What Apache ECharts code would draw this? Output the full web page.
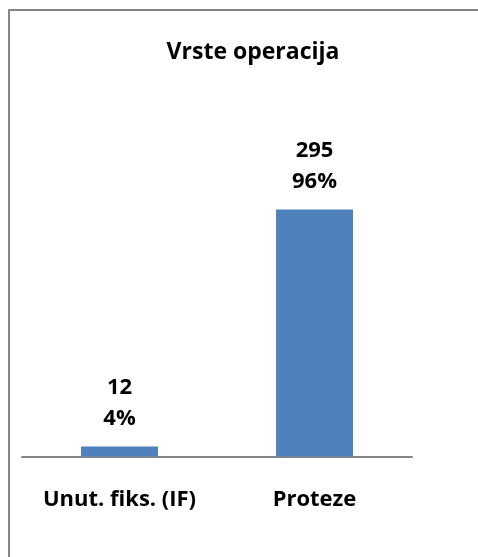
<!DOCTYPE html>
<html>
<head>
<meta charset="utf-8">
<script src="https://cdn.jsdelivr.net/npm/echarts@6/dist/echarts.min.js"></script>
<style>
  html, body { margin: 0; padding: 0; background: #fff; }
  #chart { width: 478px; height: 557px; }
</style>
</head>
<body>
<div id="chart"></div>
<script>
// podaci
const categories = ['Unut. fiks. (IF)', 'Proteze'];
const counts = [12, 295];
const percents = ['4%', '96%'];

const chart = echarts.init(document.getElementById('chart'));

const font = '"Open Sans", "Noto Sans", sans-serif';

chart.setOption({
    animation: false,
    title: {
        text: 'Vrste operacija',
        left: 248,
        top: 36,
        textAlign: 'center',
        textStyle: { fontFamily: font, fontWeight: 'bold', fontSize: 23, color: '#000' }
    },
    // okvir: samo gornja i lijeva linija
    graphic: [
        { type: 'line', shape: { x1: 8, y1: 10, x2: 478, y2: 10 }, style: { stroke: '#868686', lineWidth: 2 } },
        { type: 'line', shape: { x1: 9, y1: 9, x2: 9, y2: 557 }, style: { stroke: '#868686', lineWidth: 2 } }
    ],
    grid: { left: 22, right: 66, top: 163.5, bottom: 100.5 },
    xAxis: {
        type: 'category',
        data: categories,
        axisLine: { lineStyle: { color: '#868686', width: 2 } },
        axisTick: { show: false },
        axisLabel: {
            interval: 0,
            hideOverlap: false,
            margin: 32,
            fontFamily: font,
            fontWeight: 'bold',
            fontSize: 22,
            color: '#000'
        }
    },
    yAxis: {
        type: 'value',
        min: 0,
        max: 350,
        show: false,
        splitLine: { show: false }
    },
    series: [{
        type: 'bar',
        data: counts,
        barWidth: 77,
        itemStyle: { color: '#4F81BD' },
        label: {
            show: true,
            position: 'top',
            distance: 12,
            fontFamily: font,
            fontWeight: 'bold',
            fontSize: 22,
            lineHeight: 31,
            color: '#000',
            formatter: p => p.value + '\n' + percents[p.dataIndex]
        }
    }]
});
</script>
</body>
</html>
